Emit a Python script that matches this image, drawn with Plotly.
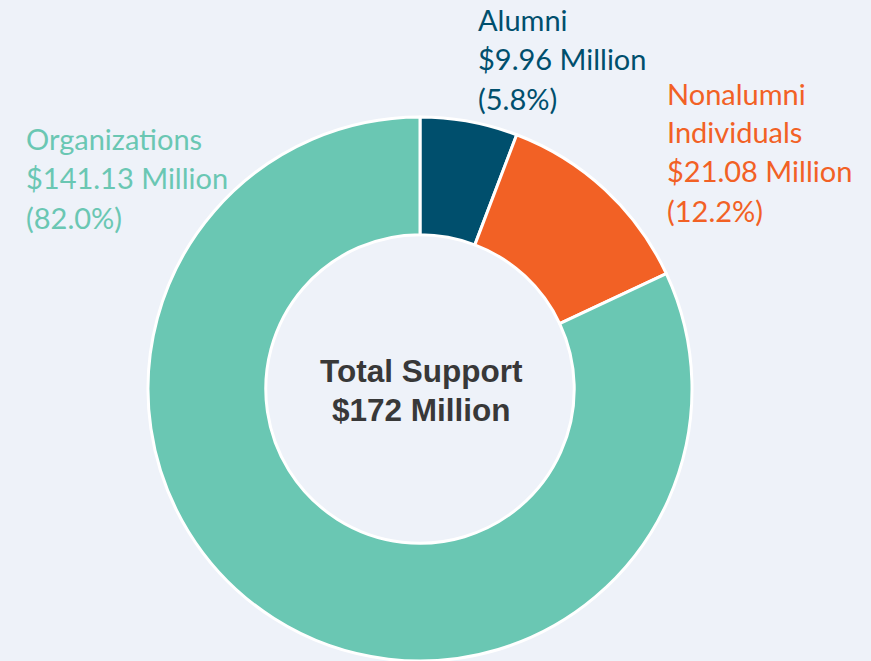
import plotly.graph_objects as go

# support by source, millions of dollars
sources = ["Alumni", "Nonalumni Individuals", "Organizations"]
amounts = [9.96, 21.08, 141.13]
shares = ["5.8%", "12.2%", "82.0%"]
colors = ["#004F6D", "#F26125", "#6AC7B3"]
total_label = "$172 Million"

W, H = 871, 661
bg = "#EEF2F9"

fig = go.Figure(go.Pie(
    labels=sources,
    values=amounts,
    hole=0.567,
    sort=False,
    direction="clockwise",
    marker=dict(colors=colors, line=dict(color="white", width=3)),
    textinfo="none",
    hoverinfo="label+value+percent",
    domain=dict(x=[147 / W, 693 / W], y=[0, 544 / H]),
))

def px_y(y):
    return 1 - y / H

# outside labels, one annotation per line: (x left, first line y, line step)
label_pos = {
    "Alumni": (476, 20, 39),
    "Nonalumni Individuals": (665, 93, 39),
    "Organizations": (24, 138, 39.5),
}
label_lines = {
    "Alumni": ["Alumni"],
    "Nonalumni Individuals": ["Nonalumni", "Individuals"],
    "Organizations": ["Organizations"],
}

for name, amt, pct, col in zip(sources, amounts, shares, colors):
    x0, y0, step = label_pos[name]
    lines = label_lines[name] + ["$%.2f Million" % amt, "(%s)" % pct]
    for i, line in enumerate(lines):
        fig.add_annotation(
            x=x0 / W, y=px_y(y0 + i * step), xref="paper", yref="paper",
            text=line, showarrow=False, xanchor="left", yanchor="middle",
            font=dict(family="Lato", size=29, color=col),
        )

# center text
for i, line in enumerate(["Total Support", total_label]):
    fig.add_annotation(
        x=421 / W, y=px_y(371 + i * 39), xref="paper", yref="paper",
        text="<b>%s</b>" % line, showarrow=False, xanchor="center", yanchor="middle",
        font=dict(family="Liberation Sans, Arial", size=31.5, color="#383838"),
    )

fig.update_layout(
    width=W, height=H,
    margin=dict(l=0, r=0, t=0, b=0),
    paper_bgcolor=bg, plot_bgcolor=bg,
    showlegend=False,
)

fig.write_html("out.html", config={"displayModeBar": False},
               post_script="document.body.style.margin='0px';")
